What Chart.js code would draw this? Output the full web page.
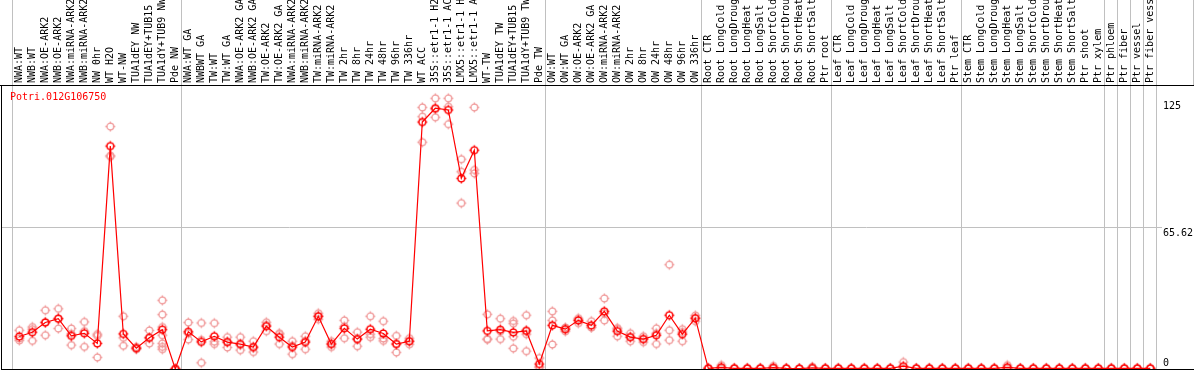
<!DOCTYPE html>
<html><head><meta charset="utf-8">
<script src="https://cdn.jsdelivr.net/npm/chart.js@4.4.1/dist/chart.umd.min.js"></script>
<style>html,body{margin:0;padding:0;background:#fff;overflow:hidden}</style>
</head><body>
<canvas id="c" width="1194" height="370" style="display:block;width:1194px;height:370px"></canvas>
<script>
const categories = [
 "NWA:WT","NWB:WT","NWA:OE-ARK2","NWB:OE-ARK2","NWA:miRNA-ARK2","NWB:miRNA-ARK2","NW 0hr","WT H2O","WT-NW","TUA1dEY NW","TUA1dEY+TUB15","TUA1dY+TUB9 NW","Pde NW",
 "NWA:WT GA","NWBWT GA","TW:WT","TW:WT GA","NWA:OE-ARK2 GA","NWB:OE-ARK2 GA","TW:OE-ARK2","TW:OE-ARK2 GA","NWA:miRNA-ARK2","NWB:miRNA-ARK2","TW:miRNA-ARK2","TW:miRNA-ARK2",
 "TW 2hr","TW 8hr","TW 24hr","TW 48hr","TW 96hr","TW 336hr","WT ACC","35S::etr1-1 H2","35S::etr1-1 AC","LMX5::etr1-1 H","LMX5::etr1-1 A","WT-TW","TUA1dEY TW","TUA1dEY+TUB15","TUA1dY+TUB9 TW","Pde TW",
 "OW:WT","OW:WT GA","OW:OE-ARK2","OW:OE-ARK2 GA","OW:miRNA-ARK2","OW:miRNA-ARK2","OW 2hr","OW 8hr","OW 24hr","OW 48hr","OW 96hr","OW 336hr",
 "Root CTR","Root LongCold","Root LongDroug","Root LongHeat","Root LongSalt","Root ShortCold","Root ShortDrou","Root ShortHeat","Root ShortSalt","Ptr root",
 "Leaf CTR","Leaf LongCold","Leaf LongDroug","Leaf LongHeat","Leaf LongSalt","Leaf ShortCold","Leaf ShortDrou","Leaf ShortHeat","Leaf ShortSalt","Ptr leaf",
 "Stem CTR","Stem LongCold","Stem LongDroug","Stem LongHeat","Stem LongSalt","Stem ShortCold","Stem ShortDrou","Stem ShortHeat","Stem ShortSalt","Ptr shoot",
 "Ptr xylem","Ptr phloem","Ptr fiber","Ptr vessel","Ptr fiber vess"
];

const meanValues = [
 15.1,17.1,21.6,23.4,15.4,16.6,11.9,103.6,16.3,9.7,14.5,18.3,0,
 17.3,12.6,15.2,12.5,11.6,10.2,19.9,14.8,10.2,12.5,24.5,11.6,
 18.9,13.9,18.5,16.5,11.6,12.9,114.8,121.2,120.4,88.6,101.7,17.7,18.3,17.0,17.7,2.3,
 20.3,18.5,22.6,20.3,26.8,17.6,14.8,13.9,15.7,25.0,16.2,23.6,
 0.3,0.8,0.3,0.3,0.3,0.6,0.3,0.2,0.5,0.3,
 0.3,0.3,0.3,0.3,0.3,1.3,0.3,0.3,0.3,0.3,
 0.3,0.3,0.3,0.8,0.3,0.3,0.3,0.3,0.3,0.3,
 0.3,0.3,0.3,0.3,0.3
];

const replicateValues = [
 [18.0,14.2,13.3],[19.5,13.1,18.5],[27.3,15.7,21.8],[28.0,18.8,23.4],[18.8,11.1,16.3],[21.9,10.3,17.6],[16.2,15.4,5.4],[112.7,99.2,98.7],[24.5,14.5,10.8],[9.2,9.7,10.2],[17.9,11.9,14.5],[31.9,25.3,19.5,15.7,11.9,10.3,9.2],[0,0,0],
 [21.6,13.7,16.6],[21.4,2.9,13.5],[21.3,11.6,12.7],[14.8,10.0,12.7],[14.8,8.8,11.2],[12.9,7.9,9.8],[21.7,17.6,20.4],[16.6,11.6,16.2],[12.9,6.9,10.8],[15.2,9.2,13.1],[25.9,23.1,24.5],[12.9,10.2,11.7],
 [22.6,14.3,19.8],[17.1,10.6,14.0],[24.5,16.2,14.8],[22.2,13.1,14.2],[15.4,7.7,11.7],[14.3,11.5,12.9],[121.6,117.3,105.4],[125.8,117.0,120.8],[125.8,121.9,113.8],[97.5,91.7,77.1],[121.6,92.5,90.9],[25.4,13.7,14.0],[23.4,13.9,17.6],[22.3,21.1,9.6,15.0],[25.0,18.0,16.2,8.3],[5.1,1.0,0.8],
 [26.8,22.6,11.4],[19.3,17.5,18.7],[23.6,21.3,22.9],[22.2,19.4,19.3],[32.8,25.9,22.6],[19.0,15.2,18.6],[16.6,12.9,14.9],[15.2,12.5,14.0],[18.9,11.6,16.6],[48.5,18.0,13.4],[18.5,12.9,17.2],[24.9,22.2,23.7],
 [0.2,0.3,0.4],[1.8,0.2,0.3],[0.2,0.3,0.4],[0.3,0.4,0.2],[0.3,0.2,0.4],[1.4,0.3,0.2],[0.2,0.3,0.3],[0.3,0.2,0.2],[1.0,0.3,0.2],[0.3,0.2,0.3],
 [0.2,0.3,0.4],[0.3,0.2,0.3],[0.2,0.4,0.3],[0.3,0.3,0.2],[0.2,0.3,0.3],[3.2,0.4,0.3],[0.3,0.2,0.3],[0.2,0.3,0.4],[0.3,0.2,0.3],[0.3,0.3,0.2],
 [0.2,0.3,0.4],[0.3,0.2,0.3],[0.2,0.4,0.3],[1.8,0.3,0.2],[0.2,0.3,0.3],[0.3,0.2,0.3],[0.2,0.3,0.4],[0.3,0.2,0.3],[0.3,0.3,0.2],[0.2,0.3,0.4],
 [0.3,0.2,0.3],[0.2,0.4,0.3],[0.3,0.3,0.2],[0.2,0.3,0.3],[0.3,0.2,0.3]
];

const yTickValues = [0, 65.62, 125];
const yTickLabels = ["0", "65.62", "125"];
const separatorsAfter = [0, 13, 41, 53, 63, 73, 84, 85, 86, 87, 88];
const geneName = "Potri.012G106750";

const MONO = "'DejaVu Sans Mono', 'Liberation Mono', monospace";

function marker(color, lw) {
  const c = document.createElement('canvas');
  c.width = 13; c.height = 13;
  const g = c.getContext('2d');
  g.strokeStyle = color; g.lineWidth = lw;
  g.beginPath(); g.arc(6.5, 6.5, 3.4, 0, Math.PI * 2); g.stroke();
  g.beginPath();
  g.moveTo(6.5, 1.6); g.lineTo(6.5, 3.4);
  g.moveTo(6.5, 9.6); g.lineTo(6.5, 11.4);
  g.moveTo(1.6, 6.5); g.lineTo(3.4, 6.5);
  g.moveTo(9.6, 6.5); g.lineTo(11.4, 6.5);
  g.stroke();
  return c;
}
const mainMarker = marker('#ff0000', 1.4);
const repMarker = marker('#f09a9a', 1.3);

const meanPoints = meanValues.map((v, i) => ({x: i + 1, y: v}));
const replicatePoints = [];
replicateValues.forEach((arr, i) => arr.forEach(v => replicatePoints.push({x: i + 1, y: v})));

const decor = {
  id: 'decor',
  beforeDatasetsDraw(chart) {
    const {ctx, chartArea: a, scales: {x}} = chart;
    ctx.save();
    ctx.fillStyle = '#c0c0c0';
    separatorsAfter.forEach(k => {
      const px = Math.round(x.getPixelForValue(k + 0.4));
      ctx.fillRect(px, 0, 1, a.bottom);
    });
    ctx.fillRect(1193, 0, 1, a.top);
    ctx.restore();
  },
  afterDatasetsDraw(chart) {
    const {ctx, chartArea: a} = chart;
    ctx.save();
    ctx.fillStyle = '#000';
    ctx.fillRect(0, a.top, chart.width, 1);
    ctx.fillRect(a.left, a.top, 1, a.bottom - a.top + 1);
    ctx.fillRect(a.left, a.bottom, chart.width - a.left, 1);
    ctx.fillStyle = '#ff0000';
    ctx.font = '10px ' + MONO;
    ctx.textBaseline = 'alphabetic';
    ctx.textAlign = 'left';
    ctx.fillText(geneName, a.left + 9, a.top + 15);
    ctx.restore();
  }
};

new Chart(document.getElementById('c'), {
  type: 'line',
  data: {
    datasets: [
      {label: 'mean', data: meanPoints, borderColor: '#ff0000', borderWidth: 1.2,
       pointStyle: mainMarker, pointRadius: 5, tension: 0, order: 1, clip: false},
      {label: 'replicates', data: replicatePoints, showLine: false,
       pointStyle: repMarker, pointRadius: 5, order: 2, clip: false}
    ]
  },
  options: {
    responsive: false, animation: false, devicePixelRatio: 1, events: [],
    layout: {autoPadding: false, padding: {left: 1, right: 0, top: 0, bottom: 1}},
    plugins: {legend: {display: false}, tooltip: {enabled: false}, title: {display: false}},
    scales: {
      x: {
        type: 'linear', position: 'top', min: -0.4077, max: 88.3615, bounds: 'data',
        afterBuildTicks: s => { s.ticks = categories.map((_, i) => ({value: i + 1})); },
        afterFit: s => { s.height = 85; s.paddingLeft = 0; s.paddingRight = 0; },
        grid: {display: false, drawTicks: false}, border: {display: false},
        ticks: {autoSkip: false, minRotation: 90, maxRotation: 90, padding: 2, labelOffset: 12,
                color: '#000', font: {family: MONO, size: 10},
                callback: v => categories[Math.round(v) - 1] || ''}
      },
      y: {
        type: 'linear', position: 'right', min: 0, max: 132,
        afterBuildTicks: s => { s.ticks = yTickValues.map(v => ({value: v})); },
        afterFit: s => { s.width = 39; s.paddingTop = 0; s.paddingBottom = 0; },
        grid: {color: c => (c.tick && c.tick.value === 65.62) ? '#c0c0c0' : 'rgba(0,0,0,0)',
               lineWidth: 1, drawTicks: true, tickLength: 7},
        border: {display: false},
        ticks: {padding: 1, color: '#000', font: {family: MONO, size: 10, lineHeight: 1.2},
                callback: (v, i) => i === 0 ? [yTickLabels[i], ''] : ['', yTickLabels[i]]}
      }
    }
  },
  plugins: [decor]
});
</script>
</body></html>
